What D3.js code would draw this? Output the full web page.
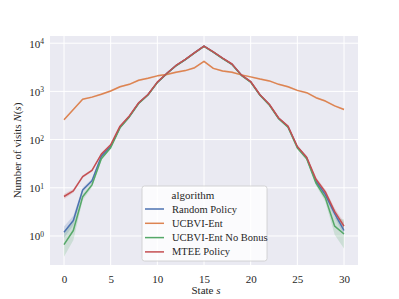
<!DOCTYPE html>
<html>
<head>
<meta charset="utf-8">
<script src="https://cdn.jsdelivr.net/npm/d3@7"></script>
<style>
  body { margin: 0; background: #fff; }
</style>
</head>
<body>
<svg id="svg" width="399" height="299"></svg>
<script>
"use strict";

const states = d3.range(0, 31);
const xTicks = [0, 5, 10, 15, 20, 25, 30];
const yTicks = [1, 10, 100, 1000, 10000];

const algorithms = ["Random Policy", "UCBVI-Ent", "UCBVI-Ent No Bonus", "MTEE Policy"];
const colors = ["#4c72b0", "#dd8452", "#55a868", "#c44e52"];

const randomPolicy = [1.2, 2.1, 9, 14, 45, 72, 180, 300, 570, 850, 1540, 2330, 3420, 4580, 6350, 8650,
  6550, 4850, 3650, 2180, 1580, 840, 530, 275, 185, 70, 42, 13.5, 7.2, 2.9, 1.3];
const ucbviEnt = [257, 420, 690, 760, 870, 1020, 1250, 1400, 1700, 1870, 2100, 2250, 2500, 2700, 3100, 4200,
  3000, 2650, 2500, 2200, 2000, 1800, 1650, 1400, 1250, 1050, 940, 740, 630, 500, 420];
const ucbviNoBonus = [0.66, 1.3, 6.5, 11.5, 40, 68, 175, 295, 560, 840, 1530, 2320, 3400, 4560, 6300, 8600,
  6500, 4800, 3620, 2160, 1560, 830, 520, 270, 180, 67, 40, 12.5, 6.2, 1.6, 1.1];
const mteePolicy = [6.6, 8.6, 17, 23, 50, 78, 190, 310, 580, 860, 1560, 2350, 3450, 4600, 6400, 8700,
  6600, 4900, 3700, 2200, 1600, 850, 540, 280, 190, 72, 43, 15, 8.2, 3.2, 1.6];

// half width of the shaded band, in decades (log10)
const randomSpread = [0.12, 0.1, 0.05, 0.04, 0.03, 0.02, 0.02, 0.02, 0.02, 0.02, 0.02, 0.02, 0.02, 0.02, 0.02, 0.02,
  0.02, 0.02, 0.02, 0.02, 0.02, 0.02, 0.02, 0.02, 0.02, 0.02, 0.03, 0.04, 0.05, 0.08, 0.1];
const ucbviSpread = [0.02, 0.02, 0.02, 0.02, 0.02, 0.02, 0.02, 0.02, 0.02, 0.02, 0.02, 0.02, 0.02, 0.02, 0.02, 0.02,
  0.02, 0.02, 0.02, 0.02, 0.02, 0.02, 0.02, 0.02, 0.02, 0.02, 0.02, 0.02, 0.02, 0.02, 0.02];
const noBonusSpread = [0.25, 0.2, 0.07, 0.05, 0.03, 0.02, 0.02, 0.02, 0.02, 0.02, 0.02, 0.02, 0.02, 0.02, 0.02, 0.02,
  0.02, 0.02, 0.02, 0.02, 0.02, 0.02, 0.02, 0.02, 0.02, 0.02, 0.03, 0.05, 0.08, 0.18, 0.3];
const mteeSpread = [0.05, 0.04, 0.03, 0.03, 0.02, 0.02, 0.02, 0.02, 0.02, 0.02, 0.02, 0.02, 0.02, 0.02, 0.02, 0.02,
  0.02, 0.02, 0.02, 0.02, 0.02, 0.02, 0.02, 0.02, 0.02, 0.02, 0.03, 0.04, 0.05, 0.07, 0.08];

const seriesValues = [randomPolicy, ucbviEnt, ucbviNoBonus, mteePolicy];
const seriesSpread = [randomSpread, ucbviSpread, noBonusSpread, mteeSpread];

const FONT = "'Liberation Serif', 'DejaVu Serif', serif";
const INK = "#262626";

const svg = d3.select("#svg");
const plotLeft = 50, plotRight = 358, plotTop = 36, plotBottom = 265;

const xScale = d3.scaleLinear().domain([-1.5, 31.5]).range([plotLeft, plotRight]);
const yScale = d3.scaleLog().domain([0.25, 14100]).range([plotBottom, plotTop]);

svg.append("rect")
  .attr("x", plotLeft).attr("y", plotTop)
  .attr("width", plotRight - plotLeft).attr("height", plotBottom - plotTop)
  .attr("fill", "#eaeaf2");

// grid
svg.append("g").selectAll("line").data(xTicks).enter().append("line")
  .attr("x1", d => xScale(d)).attr("x2", d => xScale(d))
  .attr("y1", plotTop).attr("y2", plotBottom)
  .attr("stroke", "#fff").attr("stroke-width", 1);
svg.append("g").selectAll("line").data(yTicks).enter().append("line")
  .attr("x1", plotLeft).attr("x2", plotRight)
  .attr("y1", d => yScale(d)).attr("y2", d => yScale(d))
  .attr("stroke", "#fff").attr("stroke-width", 1);

// axes (labels only, seaborn style)
let gX = svg.append("g")
  .attr("transform", "translate(0," + plotBottom + ")")
  .call(d3.axisBottom(xScale).tickValues(xTicks).tickSize(0).tickPadding(10));
gX.attr("font-family", FONT).attr("font-size", 11);
gX.select(".domain").remove();
gX.selectAll("text").attr("fill", INK);

let gY = svg.append("g")
  .attr("transform", "translate(" + plotLeft + ",0)")
  .call(d3.axisLeft(yScale).tickValues(yTicks).tickSize(0).tickPadding(6).tickFormat(""));
gY.attr("font-family", FONT).attr("font-size", 11);
gY.select(".domain").remove();
gY.selectAll(".tick text").each(function(d) {
  let t = d3.select(this).attr("dy", "0.35em").attr("fill", INK);
  t.append("tspan").text("10");
  t.append("tspan").attr("dy", "-0.45em").attr("font-size", 7.5).text(Math.round(Math.log10(d)));
});

// bands and lines
let line = d3.line().x((d, i) => xScale(states[i])).y(d => yScale(d));

seriesValues.forEach(function(vals, k) {
  let spread = seriesSpread[k];
  let area = d3.area()
    .x((d, i) => xScale(states[i]))
    .y0((d, i) => yScale(d * Math.pow(10, -spread[i])))
    .y1((d, i) => yScale(d * Math.pow(10, spread[i])));
  svg.append("path").datum(vals)
    .attr("d", area)
    .attr("fill", colors[k]).attr("fill-opacity", 0.2);
});

seriesValues.forEach(function(vals, k) {
  svg.append("path").datum(vals)
    .attr("d", line)
    .attr("fill", "none")
    .attr("stroke", colors[k])
    .attr("stroke-width", 1.5)
    .attr("stroke-linejoin", "round");
});

// axis titles
svg.append("text")
  .attr("x", 206).attr("y", 294)
  .attr("text-anchor", "middle")
  .attr("font-family", FONT).attr("font-size", 11).attr("fill", INK)
  .html('State <tspan font-style="italic">s</tspan>');

svg.append("text")
  .attr("transform", "translate(21," + ((plotTop + plotBottom) / 2) + ") rotate(-90)")
  .attr("text-anchor", "middle")
  .attr("font-family", FONT).attr("font-size", 11).attr("fill", INK)
  .html('Number of visits <tspan font-style="italic">N</tspan>(<tspan font-style="italic">s</tspan>)');

// legend
let legend = svg.append("g").attr("transform", "translate(142,186)");
legend.append("rect")
  .attr("width", 125).attr("height", 75)
  .attr("rx", 2.5)
  .attr("fill", "#fff").attr("fill-opacity", 0.8)
  .attr("stroke", "#cccccc").attr("stroke-width", 0.8);
legend.append("text")
  .attr("x", 51).attr("y", 13)
  .attr("text-anchor", "middle")
  .attr("font-family", FONT).attr("font-size", 11).attr("fill", INK)
  .text("algorithm");
algorithms.forEach(function(name, k) {
  let yy = 23 + k * 14.3;
  legend.append("line")
    .attr("x1", 3).attr("x2", 22).attr("y1", yy).attr("y2", yy)
    .attr("stroke", colors[k]).attr("stroke-width", 1.5);
  legend.append("text")
    .attr("x", 30).attr("y", yy + 3.5)
    .attr("font-family", FONT).attr("font-size", 10.5).attr("fill", INK)
    .text(name);
});
</script>
</body>
</html>
